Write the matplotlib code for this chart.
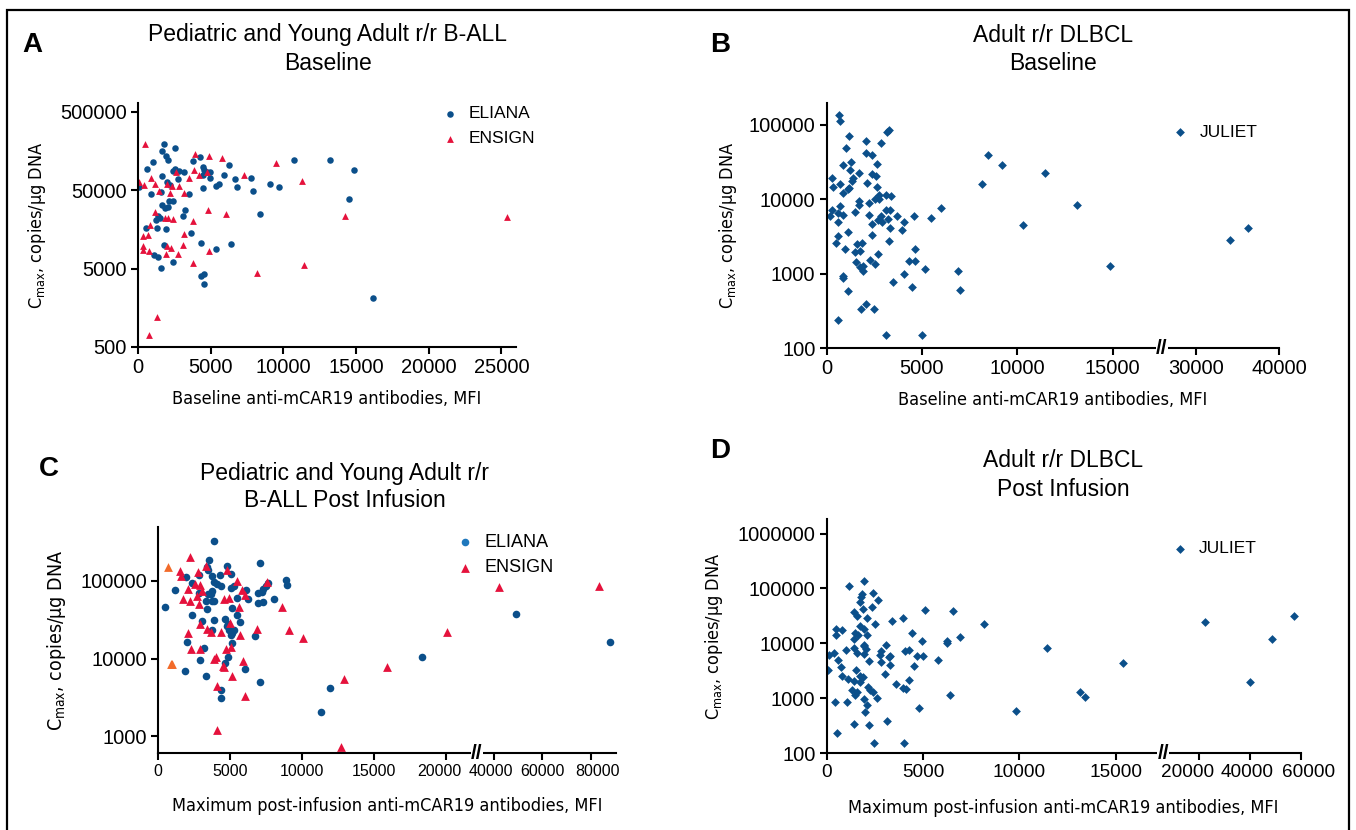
import numpy as np
import matplotlib
matplotlib.use('Agg')
import matplotlib.pyplot as plt
from matplotlib import font_manager
from matplotlib.patches import Rectangle
from matplotlib.transforms import blended_transform_factory, ScaledTranslation

# ---- data ----
a_eliana_x = [1817, 2530, 1670, 1940, 2088, 1007, 614, 3758, 4298, 4494, 4544, 4740, 4445, 4986, 4986,
              6238, 5894, 6656, 5600, 5354, 6803, 7761, 7933, 9087, 9701, 10733, 13189, 14883, 14490,
              8400, 16136, 2579, 2849, 3168, 2775, 2431, 1670, 1989, 2186, 1596, 860, 98, 3512, 4445,
              2137, 2382, 1842, 1670, 2088, 3266, 3070, 1400, 1253, 1523, 516, 1302, 1940, 3635, 1817,
              4323, 6410, 5379, 1105, 1375, 2431, 1596, 4347, 4568, 4568]
a_eliana_y = [192000, 174000, 158000, 136000, 120000, 114000, 94400, 118000, 133000, 98200, 91600, 86300,
              78300, 86300, 72300, 104000, 78300, 68800, 60000, 57100, 54300, 70900, 48700, 60600, 54300,
              121000, 122000, 91600, 38800, 24900, 2130, 93500, 89000, 85500, 69500, 87900, 76700, 63000,
              57600, 47800, 45000, 55400, 45000, 53300, 37000, 37000, 30000, 32500, 30400, 28000, 23700,
              23200, 20900, 21900, 16600, 16600, 16100, 14200, 10000, 10600, 10400, 8900, 7550, 7110,
              6130, 5080, 4050, 4300, 3230]
a_ensign_x = [467, 3905, 4887, 5772, 9480, 11249, 7294, 3831, 4740, 4175, 3537, 2628, 884, 1203, 1989,
              2333, 2849, 74, 442, 1474, 2186, 3144, 4789, 6042, 1154, 1891, 2039, 2431, 3758, 810, 368,
              688, 3193, 344, 344, 786, 1989, 2260, 3070, 1940, 2726, 4887, 3782, 11420, 8154, 14220,
              25395, 1302, 786]
a_ensign_y = [196000, 146000, 137000, 128000, 112000, 65500, 77500, 89900, 86300, 79100, 71600, 85500,
              71600, 60000, 60600, 56000, 57100, 63600, 58800, 49200, 45900, 45900, 28300, 25200, 26400,
              21900, 22300, 21500, 20400, 18000, 13100, 13500, 13900, 9660, 8750, 8330, 9660, 9290, 9950,
              7620, 7780, 8330, 5900, 5560, 4340, 23200, 22800, 1220, 721]

b_juliet_x = [659, 727, 1159, 3296, 3182, 2046, 2864, 1000, 2091, 2387, 886, 1273, 2659, 1227, 1682, 2364,
              2614, 1364, 273, 1318, 2114, 682, 318, 1182, 1114, 841, 2659, 2750, 3387, 3137, 2523, 2773,
              1682, 2205, 1682, 682, 273, 1500, 591, 3091, 3341, 159, 864, 2205, 2841, 3705, 4591, 2705,
              2886, 3227, 2364, 614, 4046, 5455, 5977, 3341, 3977, 591, 2364, 1136, 3250, 500, 955, 1591,
              1841, 4659, 1477, 1773, 2682, 2273, 1523, 1727, 2545, 1909, 1886, 4341, 4659, 5136, 841,
              841, 4046, 6909, 1136, 3500, 4477, 6977, 2091, 1795, 2500, 614, 3114, 5000, 8160, 8455,
              9182, 11477, 13114, 10273, 14886, 34170, 36300]
b_juliet_y = [136000, 111000, 69700, 85700, 79700, 60800, 56100, 48000, 42000, 39000, 28900, 31400, 29800,
              24800, 22600, 21900, 20600, 19100, 18900, 17300, 16600, 15700, 14300, 14200, 13600, 12000,
              14500, 11200, 10900, 11200, 10100, 10100, 9370, 8810, 8280, 8020, 7160, 6730, 6460, 7160,
              7090, 6010, 6070, 6130, 6010, 5950, 5890, 5200, 4890, 5360, 4690, 4990, 4890, 5650, 7470,
              4060, 3810, 3230, 3300, 3580, 2770, 2550, 2160, 2520, 2600, 2160, 1950, 1990, 1830, 1530,
              1410, 1240, 1340, 1260, 1080, 1490, 1490, 1140, 935, 870, 984, 1070, 581, 760, 651, 600,
              388, 329, 339, 241, 151, 151, 15700, 39000, 28600, 22600, 8280, 4540, 1260, 2830, 4100]

c_eliana_x = [3860, 3519, 4796, 7067, 3405, 3434, 2838, 5080, 3718, 4314, 1930, 2327, 3888, 4115, 4342,
              5052, 5250, 8911, 8968, 7663, 7493, 7294, 7180, 6925, 6102, 1164, 2838, 3434, 3746, 3689,
              3349, 3718, 3860, 5477, 6244, 8032, 6925, 7294, 482, 5108, 3377, 5505, 2355, 3065, 3860,
              4654, 4825, 5704, 4768, 3746, 4938, 5137, 5250, 5052, 6698, 1987, 5137, 3179, 2895, 4853,
              4654, 6017, 1845, 3320, 7067, 4342, 4342, 11976, 11295, 18362, 48960, 88000]
c_eliana_y = [326000, 186000, 156000, 169000, 150000, 136000, 118000, 122000, 114000, 117000, 111000,
              93300, 95200, 90700, 86300, 80500, 84600, 101000, 88000, 93300, 85400, 78100, 70800, 68700,
              75200, 76600, 69400, 66700, 73600, 68000, 54200, 54200, 55300, 60500, 58100, 58100, 51600,
              52700, 46400, 44600, 43700, 36500, 36200, 30000, 31500, 32200, 28000, 29700, 25900, 23400,
              23400, 21300, 23000, 19900, 19700, 16300, 15700, 13800, 9660, 10400, 8760, 7400, 6910, 6020,
              4940, 3980, 3100, 4140, 2030, 10400, 37300, 16100]
c_ensign_x = [2214, 3320, 4796, 1504, 2781, 1589, 5477, 7549, 2582, 2923, 2100, 3065, 5818, 6045, 2724,
              1703, 2214, 2810, 4541, 4910, 5619, 8571, 2866, 3377, 3661, 4342, 2100, 5676, 6896, 9082,
              10047, 4967, 2299, 2923, 4683, 5080, 3860, 4030, 5903, 4484, 4597, 5108, 4115, 6045, 4058,
              12885, 12715, 15921, 20077, 42030, 83400]
c_ensign_y = [201000, 153000, 136000, 132000, 128000, 114000, 98000, 96100, 90700, 87100, 78100, 72900,
              76600, 65400, 62900, 57600, 54200, 50100, 58100, 59300, 45400, 45400, 27500, 24200, 21700,
              22100, 21300, 20200, 23900, 23400, 18200, 28300, 13200, 13200, 13200, 13900, 9860, 10500,
              9200, 7930, 7780, 5900, 4390, 3330, 1220, 5460, 723, 7850, 22100, 82100, 84600]
c_other_x = [681, 908, 960]
c_other_y = [148000, 8500, 8450]

d_juliet_x = [1962, 1150, 2413, 1827, 1804, 1759, 2683, 2368, 1872, 1398, 5096, 6540, 2120, 3969, 3383,
              1601, 2526, 8163, 1736, 1917, 496, 812, 1488, 4442, 474, 1624, 2097, 6945, 1443, 4961, 6246,
              6269, 1962, 1939, 3089, 1443, 2030, 992, 2819, 4082, 4284, 406, 1556, 1939, 135, 3315, 2773,
              4690, 5006, 3225, 609, 5773, 2210, 2819, 3315, 722, 4510, 1533, 68, 3044, 812, 1736, 1894,
              1128, 4284, 1443, 1759, 3608, 2165, 3969, 4104, 2278, 2390, 1330, 1601, 1466, 1962, 2593,
              6382, 428, 1060, 2075, 4803, 2007, 1443, 2187, 3157, 541, 2435, 3991, 9809, 11455, 15357,
              13147, 13395, 22100, 39900, 48800, 57400]
d_juliet_y = [137000, 113000, 83900, 78300, 69100, 56700, 60800, 46000, 42300, 37300, 40500, 38900, 29400,
              29400, 25500, 31000, 22900, 22900, 20400, 18500, 18500, 17200, 15200, 15600, 14000, 14000,
              14400, 13200, 11800, 10900, 10900, 10300, 9460, 8810, 9340, 8340, 7890, 7450, 7250, 7250,
              7560, 6660, 6760, 6390, 6040, 5960, 6040, 5960, 5790, 5560, 5040, 5040, 4760, 4500, 4020,
              3650, 3800, 3220, 3310, 2720, 2570, 2570, 2460, 2200, 2110, 2030, 1940, 1840, 1600, 1510,
              1470, 1410, 1280, 1410, 1290, 1140, 980, 1010, 1130, 851, 851, 740, 653, 560, 338, 324, 389,
              235, 150, 150, 591, 8340, 4370, 1280, 1060, 24500, 2000, 11800, 31000]

# ---- style ----
BLUE = '#0b4f8a'
RED = '#e5123c'
ORANGE = '#f26b2a'
LBLUE = '#1f78bd'

names = {f.name for f in font_manager.fontManager.ttflist}
MAIN = 'Liberation Sans' if 'Liberation Sans' in names else 'DejaVu Sans'

# a condensed face for the axis titles, if one is installed
narrow_file = None
for key in ['LiberationSansNarrow-Regular', 'DejaVuSansCondensed.', 'Condensed-Regular', 'Condensed', 'Narrow']:
    for f in font_manager.fontManager.ttflist:
        if key in f.fname and 'Bold' not in f.fname and 'Oblique' not in f.fname and 'Italic' not in f.fname:
            narrow_file = f.fname
            break
    if narrow_file:
        break


def lab_font(size):
    if narrow_file:
        return font_manager.FontProperties(fname=narrow_file, size=size)
    return font_manager.FontProperties(family=MAIN, size=size)


plt.rcParams['font.family'] = [MAIN, 'DejaVu Sans']
plt.rcParams['mathtext.fontset'] = 'custom'
plt.rcParams['mathtext.rm'] = MAIN
plt.rcParams['axes.linewidth'] = 1.5


def broken(b1, v2, p2, r):
    # piecewise linear x scale with a break between b1 and v2
    vk = [-1e6, 0, b1, v2, 1e7]
    pk = [-1e6, 0, b1, p2, p2 + (1e7 - v2) * r]
    return (lambda v: np.interp(v, vk, pk)), (lambda p: np.interp(p, pk, vk))


def style(ax, ylim, yticks, xlim, xticks, xsize=14.5, shifts=None):
    ax.set_yscale('log')
    ax.set_ylim(*ylim)
    ax.set_yticks(yticks)
    ax.set_yticklabels([str(t) for t in yticks], fontsize=14.5)
    ax.yaxis.set_minor_locator(matplotlib.ticker.NullLocator())
    ax.set_xlim(*xlim)
    ax.set_xticks(xticks)
    ax.spines['top'].set_visible(False)
    ax.spines['right'].set_visible(False)
    ax.tick_params(direction='out', length=5, width=1.5, pad=3)
    labs = ax.set_xticklabels([str(t) for t in xticks], fontsize=xsize)
    if shifts:
        # nudge crowded labels apart, as in the original
        for lab, dx in zip(labs, shifts):
            lab.set_transform(lab.get_transform() + ScaledTranslation(dx / 100, 0, fig.dpi_scale_trans))


def brk(ax, x):
    tr = blended_transform_factory(ax.transData, ax.transAxes)
    ax.text(x, 0, '//', transform=tr, ha='center', va='center', fontsize=15,
            fontweight='bold', clip_on=False,
            bbox=dict(fc='white', ec='none', pad=0.2))


fig = plt.figure(figsize=(13.56, 8.30), dpi=100)
fig.patches.append(Rectangle((7 / 1356, -0.01), 1342 / 1356, 1 - 10 / 830 + 0.01,
                             transform=fig.transFigure, fill=False, ec='black', lw=1.6))


def px(l, r, t, b):
    return [l / 1356, 1 - b / 830, (r - l) / 1356, (b - t) / 830]


ylab = 'C$_{\\mathregular{max}}$, copies/µg DNA'
XS = 13
YS = 13

# ---- A ----
axA = fig.add_axes(px(138, 516, 103, 347))
axA.scatter(a_eliana_x, a_eliana_y, s=22, marker='o', color=BLUE, lw=0, label='ELIANA')
axA.scatter(a_ensign_x, a_ensign_y, s=24, marker='^', color=RED, lw=0, label='ENSIGN')
style(axA, (500, 650000), [500, 5000, 50000, 500000], (0, 26000), [0, 5000, 10000, 15000, 20000, 25000])
axA.set_xlabel('Baseline anti-mCAR19 antibodies, MFI', fontproperties=lab_font(XS), labelpad=9)
axA.set_ylabel(ylab, fontproperties=lab_font(YS), labelpad=9)
axA.legend(loc='upper left', bbox_to_anchor=(0.76, 1.015), frameon=False, fontsize=12.5,
           handletextpad=0.1, labelspacing=0.55, markerscale=1.0, borderaxespad=0)

# ---- B ----
axB = fig.add_axes(px(826.6, 1279, 103, 348))
fB = broken(17570, 30000, 19355, 0.4368)
axB.set_xscale('function', functions=fB)
axB.scatter(b_juliet_x, b_juliet_y, s=20, marker='D', color=BLUE, lw=0, label='JULIET')
style(axB, (100, 195000), [100, 1000, 10000, 100000], (0, 40000), [0, 5000, 10000, 15000, 30000, 40000])
axB.set_xlabel('Baseline anti-mCAR19 antibodies, MFI', fontproperties=lab_font(XS), labelpad=9)
axB.set_ylabel(ylab, fontproperties=lab_font(YS), labelpad=7)
axB.legend(loc='upper left', bbox_to_anchor=(0.728, 0.94), frameon=False, fontsize=12.5,
           handletextpad=0.1, markerscale=1.0, borderaxespad=0)
brk(axB, 17700)

# ---- C ----
axC = fig.add_axes(px(158.3, 615.7, 527, 753))
fC = broken(22140, 40000, 23345, 0.168)
axC.set_xscale('function', functions=fC)
axC.scatter(c_eliana_x, c_eliana_y, s=30, marker='o', color=BLUE, lw=0)
axC.scatter(c_ensign_x, c_ensign_y, s=40, marker='^', color=RED, lw=0)
axC.scatter(c_other_x, c_other_y, s=40, marker='^', color=ORANGE, lw=0)
axC.scatter([], [], s=30, marker='o', color=LBLUE, lw=0, label='ELIANA')
axC.scatter([], [], s=40, marker='^', color=RED, lw=0, label='ENSIGN')
style(axC, (611, 490000), [1000, 10000, 100000], (0, 90400),
      [0, 5000, 10000, 15000, 20000, 40000, 60000, 80000], xsize=11.5,
      shifts=[0, 0, 0, 0, -6, -3, 0, 7])
axC.set_xlabel('Maximum post-infusion anti-mCAR19 antibodies, MFI', fontproperties=lab_font(XS), labelpad=13)
axC.set_ylabel(ylab, fontproperties=lab_font(14), labelpad=9)
axC.legend(loc='upper left', bbox_to_anchor=(0.615, 1.0), frameon=False, fontsize=13,
           handletextpad=0.1, labelspacing=0.45, markerscale=1.0, borderaxespad=0)
brk(axC, 22300)

# ---- D ----
axD = fig.add_axes(px(826.6, 1300.7, 519, 753))
fD = broken(17350, 20000, 19340, 0.1316)
axD.set_xscale('function', functions=fD)
axD.scatter(d_juliet_x, d_juliet_y, s=20, marker='D', color=BLUE, lw=0, label='JULIET')
style(axD, (100, 1850000), [100, 1000, 10000, 100000, 1000000], (0, 60000),
      [0, 5000, 10000, 15000, 20000, 40000, 60000], xsize=13.7, shifts=[0, 0, 0, 0, -12, -2.5, 7.5])
axD.set_xlabel('Maximum post-infusion anti-mCAR19 antibodies, MFI', fontproperties=lab_font(XS), labelpad=13)
axD.set_ylabel(ylab, fontproperties=lab_font(YS), labelpad=9)
axD.legend(loc='upper left', bbox_to_anchor=(0.694, 0.935), frameon=False, fontsize=12.5,
           handletextpad=0.1, markerscale=1.0, borderaxespad=0)
brk(axD, 17500)


# ---- titles and panel letters ----
def ftext(x, y, s, **kw):
    fig.text(x / 1356, 1 - y / 830, s, **kw)


TS = 16.5
ftext(328, 35, 'Pediatric and Young Adult r/r B-ALL', ha='center', va='center', fontsize=TS)
ftext(328, 63, 'Baseline', ha='center', va='center', fontsize=TS)
ftext(1053, 35, 'Adult r/r DLBCL', ha='center', va='center', fontsize=TS)
ftext(1053, 63, 'Baseline', ha='center', va='center', fontsize=TS)
ftext(345, 473, 'Pediatric and Young Adult r/r', ha='center', va='center', fontsize=TS)
ftext(345, 500, 'B-ALL Post Infusion', ha='center', va='center', fontsize=TS)
ftext(1063, 460, 'Adult r/r DLBCL', ha='center', va='center', fontsize=TS)
ftext(1063, 489, 'Post Infusion', ha='center', va='center', fontsize=TS)

ftext(22, 45, 'A', ha='left', va='center', fontsize=20, fontweight='bold')
ftext(710, 45, 'B', ha='left', va='center', fontsize=20, fontweight='bold')
ftext(39, 469, 'C', ha='left', va='center', fontsize=20, fontweight='bold')
ftext(710, 451, 'D', ha='left', va='center', fontsize=20, fontweight='bold')

fig.savefig('out.png', dpi=100)
